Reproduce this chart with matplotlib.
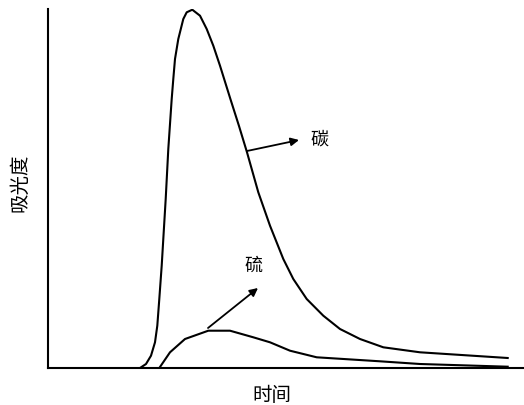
import matplotlib
matplotlib.use("Agg")
import matplotlib.pyplot as plt

plt.rcParams['font.family'] = ['Noto Sans CJK SC', 'DejaVu Sans']

# carbon absorbance peak (time, absorbance)
carbon_t = [92, 98, 103, 107, 109.3, 111.3, 113.7, 115.7, 117.7, 120.3, 123.7, 125.3,
            127, 130.3, 135.3, 138.7, 144.3, 152, 158.7, 165.3, 172, 182.4, 191,
            199, 210.3, 222, 235.3, 245.3, 258.7, 275.3, 292, 312, 335.3, 372, 459.7]
carbon_a = [0, 4, 12.3, 25.7, 42.3, 69, 102.3, 135.7, 169, 219, 269, 289,
            309, 329, 349, 355.7, 358.3, 352.3, 339, 322.3, 302.3, 269, 242,
            215.7, 175.7, 142.3, 109, 89, 69, 52.3, 39, 29, 20.7, 15.7, 10]

# sulfur absorbance peak
sulfur_t = [111.3, 122, 137, 160.3, 182, 205.3, 222, 242, 268.7, 332, 372, 459.7]
sulfur_a = [0, 15.7, 29, 37.3, 37.3, 30.7, 25.7, 17.3, 10.7, 6.7, 4, 1.3]

fig = plt.figure(figsize=(5.24, 4.06), dpi=100)
ax = fig.add_axes([48 / 524, 37 / 406, 475 / 524, 359 / 406])

ax.plot(carbon_t, carbon_a, color="black", lw=1.5, solid_joinstyle="round")
ax.plot(sulfur_t, sulfur_a, color="black", lw=1.5, solid_joinstyle="round")

ax.set_xlim(0, 475)
ax.set_ylim(0, 359)
ax.set_xticks([])
ax.set_yticks([])
for side in ("top", "right"):
    ax.spines[side].set_visible(False)
for side in ("left", "bottom"):
    ax.spines[side].set_linewidth(1.5)

arrow = dict(arrowstyle="-|>", color="black", lw=1.3, mutation_scale=12,
             shrinkA=0, shrinkB=0)
ax.annotate("", xy=(251, 228), xytext=(199, 217), arrowprops=arrow)
ax.annotate("", xy=(210, 80), xytext=(160, 40), arrowprops=arrow)
ax.text(271, 229, "碳", fontsize=13, ha="center", va="center")
ax.text(205, 103, "硫", fontsize=13, ha="center", va="center")

fig.text(20 / 524, 1 - 183 / 406, "吸光度", fontsize=14, rotation=90,
         ha="center", va="center")
fig.text(272 / 524, 1 - 396 / 406, "时间", fontsize=14, ha="center", va="center")

fig.savefig("out.png", dpi=100)
